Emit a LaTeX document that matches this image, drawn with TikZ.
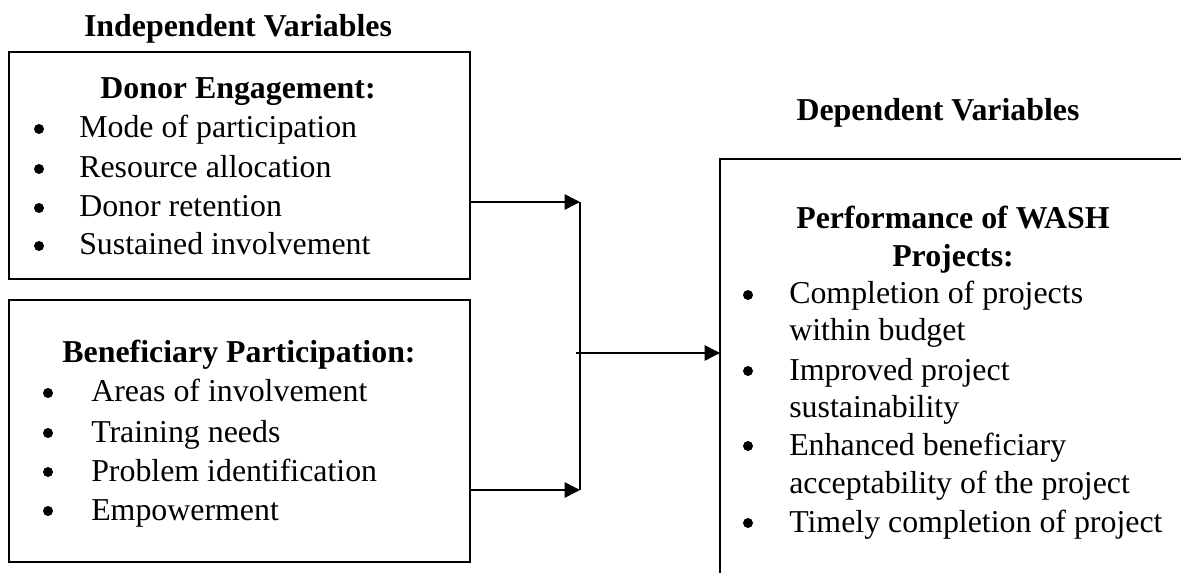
\documentclass[tikz,border=0pt]{standalone}
\usepackage{fontspec}
\setmainfont{Liberation Serif}
\usetikzlibrary{arrows.meta}
\begin{document}
\begin{tikzpicture}[x=0.75pt,y=-0.75pt,
  box/.style={draw,line width=2pt,inner sep=0pt,outer sep=0pt},
  txt/.style={inner sep=0pt,anchor=base west,font=\fontsize{23.9}{29}\selectfont},
  hd/.style={inner sep=0pt,anchor=base,font=\fontsize{23.9}{29}\selectfont\bfseries},
  bul/.style={circle,fill=black,inner sep=0pt,minimum size=7.5pt},
  conn/.style={line width=1.1pt},
  arr/.style={conn,-{Triangle[length=11.5pt,width=11.5pt]}}]
\useasboundingbox (0,0) rectangle (1181,573);

% boxes
\node[box,minimum width=345.75pt,minimum height=170.25pt] (b1) at (239.5,165.5) {};
\node[box,minimum width=345.75pt,minimum height=196.5pt] (b2) at (239.5,431) {};
\begin{scope}
  \clip (0,0) rectangle (1181,573);
  \node[box,minimum width=390pt,minimum height=345pt] (b3) at (980,389) {};
\end{scope}

% headings
\node[hd] (h1) at (238,37) {Independent Variables};
\node[hd] (h2) at (938,121) {Dependent Variables};

% box 1
\node[hd] (t1) at (238,99) {Donor Engagement:};
\node[bul] (p1) at (39,129) {};
\node[bul] (p2) at (39,169) {};
\node[bul] (p3) at (39,208) {};
\node[bul] (p4) at (39,246) {};
\node[txt] (i1) at (79,138) {Mode of participation};
\node[txt] (i2) at (79,178) {Resource allocation};
\node[txt] (i3) at (79,217) {Donor retention};
\node[txt] (i4) at (79,255) {Sustained involvement};

% box 2
\node[hd] (t2) at (239,363) {Beneficiary Participation:};
\node[bul] (q1) at (48,393) {};
\node[bul] (q2) at (48,433) {};
\node[bul] (q3) at (48,472) {};
\node[bul] (q4) at (48,511) {};
\node[txt] (j1t) at (91,402) {Areas of involvement};
\node[txt] (j2t) at (91,442) {Training needs};
\node[txt] (j3t) at (91,481) {Problem identification};
\node[txt] (j4t) at (91,520) {Empowerment};

% box 3
\node[hd] (t3a) at (953,229) {Performance of WASH};
\node[hd] (t3b) at (953,267) {Projects:};
\node[bul] (r1) at (748,295) {};
\node[bul] (r2) at (748,371) {};
\node[bul] (r3) at (748,446) {};
\node[bul] (r4) at (748,523) {};
\node[txt] (k1) at (789,304) {Completion of projects};
\node[txt] (k1b) at (789,341) {within budget};
\node[txt] (k2) at (789,380) {Improved project};
\node[txt] (k2b) at (789,417) {sustainability};
\node[txt] (k3) at (789,455) {Enhanced beneficiary};
\node[txt] (k3b) at (789,493) {acceptability of the project};
\node[txt] (k4) at (789,532) {Timely completion of project};

% connectors
\coordinate (ja) at (580,202);
\coordinate (jb) at (580,490);
\coordinate (jm) at (576,353);
\draw[arr] (b1.east |- ja) -- (ja);
\draw[arr] (b2.east |- jb) -- (jb);
\draw[conn] (ja) -- (jb);
\draw[arr] (jm) -- (jm -| b3.west);
\end{tikzpicture}
\end{document}
